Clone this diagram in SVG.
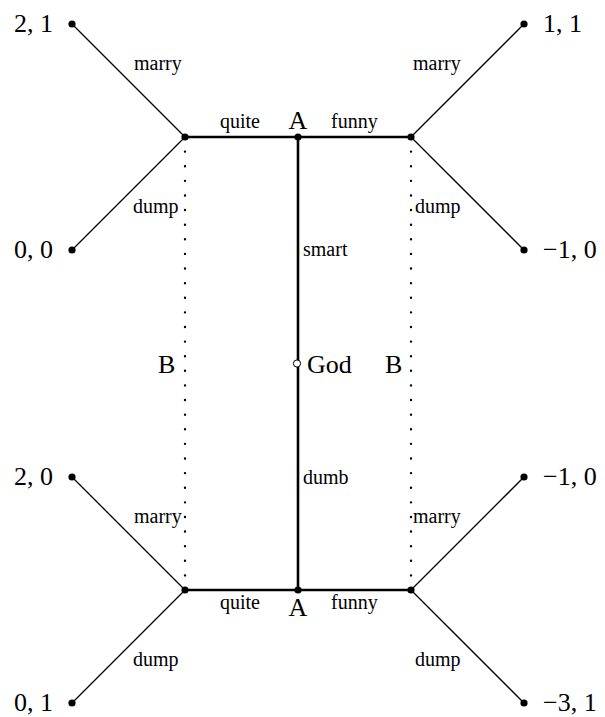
<svg xmlns="http://www.w3.org/2000/svg" width="605" height="717" viewBox="0 0 605 717">
<style>
.big{font-family:"Liberation Serif","Times New Roman",serif;font-size:26px;fill:#000}
.sm{font-family:"Liberation Serif","Times New Roman",serif;font-size:20px;fill:#000}
.thin{stroke:#000;stroke-width:1.3;fill:none}
.thick{stroke:#000;stroke-width:2.6;fill:none}
.dots{stroke:#000;stroke-width:2.4;stroke-linecap:round;stroke-dasharray:0 14.613;fill:none}
.dot{fill:#000}
</style>
<rect width="605" height="717" fill="#fff"/>
<g id="connectors">
<line class="thin" x1="72" y1="24" x2="185" y2="137"/>
<line class="thin" x1="72" y1="250" x2="185" y2="137"/>
<line class="thin" x1="524" y1="24" x2="411" y2="137"/>
<line class="thin" x1="524" y1="250" x2="411" y2="137"/>
<line class="thin" x1="72" y1="477" x2="185" y2="590"/>
<line class="thin" x1="72" y1="703" x2="185" y2="590"/>
<line class="thin" x1="524" y1="477" x2="411" y2="590"/>
<line class="thin" x1="524" y1="703" x2="411" y2="590"/>
<line class="thick" x1="185" y1="137" x2="411" y2="137"/>
<line class="thick" x1="185" y1="590" x2="411" y2="590"/>
<line class="thick" x1="298" y1="137" x2="298" y2="590"/>
<line class="dots" x1="185" y1="137" x2="185" y2="590"/>
<line class="dots" x1="411" y1="137" x2="411" y2="590"/>
<text class="sm" x="134" y="70">marry</text>
<text class="sm" x="133" y="213">dump</text>
<text class="sm" x="413" y="70">marry</text>
<text class="sm" x="415" y="213">dump</text>
<text class="sm" x="220" y="128">quite</text>
<text class="sm" x="331" y="128">funny</text>
<text class="sm" x="303" y="256">smart</text>
<text class="sm" x="303" y="484">dumb</text>
<text class="sm" x="134" y="523">marry</text>
<text class="sm" x="413" y="523">marry</text>
<text class="sm" x="220" y="609">quite</text>
<text class="sm" x="331" y="609">funny</text>
<text class="sm" x="133" y="666">dump</text>
<text class="sm" x="415" y="666">dump</text>
<text class="big" x="158" y="373">B</text>
<text class="big" x="385" y="373">B</text>
</g>
<g id="A-top"><circle class="dot" cx="298" cy="137" r="3.6"/><text class="big" x="298" y="129" text-anchor="middle">A</text></g>
<g id="A-bottom"><circle class="dot" cx="298" cy="590" r="3.6"/><text class="big" x="298" y="616" text-anchor="middle">A</text></g>
<g id="God"><circle cx="297" cy="363.5" r="3.6" fill="#fff" stroke="#000" stroke-width="1"/><text class="big" x="307" y="373">God</text></g>
<g id="B-tl"><circle class="dot" cx="185" cy="137" r="3.6"/></g>
<g id="B-tr"><circle class="dot" cx="411" cy="137" r="3.6"/></g>
<g id="B-bl"><circle class="dot" cx="185" cy="590" r="3.6"/></g>
<g id="B-br"><circle class="dot" cx="411" cy="590" r="3.6"/></g>
<g id="leaf1"><circle class="dot" cx="72" cy="24" r="3.6"/><text class="big" x="53" y="32" text-anchor="end">2, 1</text></g>
<g id="leaf2"><circle class="dot" cx="72" cy="250" r="3.6"/><text class="big" x="53" y="258" text-anchor="end">0, 0</text></g>
<g id="leaf3"><circle class="dot" cx="524" cy="24" r="3.6"/><text class="big" x="543" y="32">1, 1</text></g>
<g id="leaf4"><circle class="dot" cx="524" cy="250" r="3.6"/><text class="big" x="543" y="258">−1, 0</text></g>
<g id="leaf5"><circle class="dot" cx="72" cy="477" r="3.6"/><text class="big" x="53" y="485" text-anchor="end">2, 0</text></g>
<g id="leaf6"><circle class="dot" cx="72" cy="703" r="3.6"/><text class="big" x="53" y="711" text-anchor="end">0, 1</text></g>
<g id="leaf7"><circle class="dot" cx="524" cy="477" r="3.6"/><text class="big" x="543" y="485">−1, 0</text></g>
<g id="leaf8"><circle class="dot" cx="524" cy="703" r="3.6"/><text class="big" x="543" y="711">−3, 1</text></g>
</svg>
